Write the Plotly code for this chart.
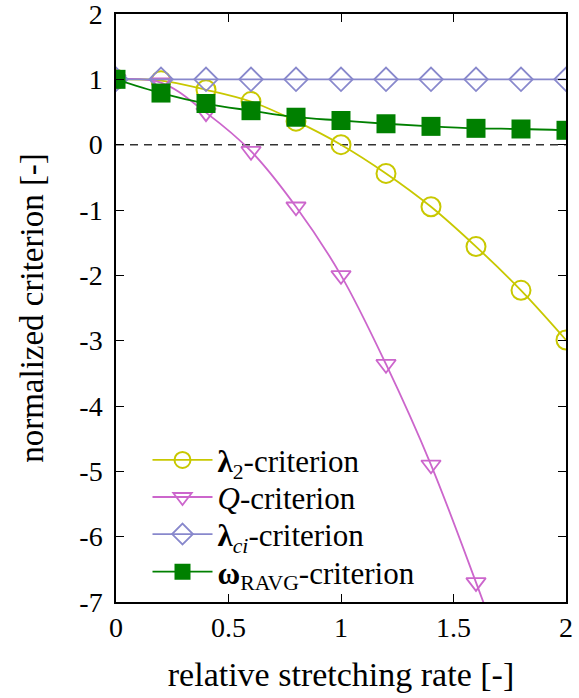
import plotly.graph_objects as go

x = [0.0, 0.2, 0.4, 0.6, 0.8, 1.0, 1.2, 1.4, 1.6, 1.8, 2.0]
lambda2 = [1.0, 0.98, 0.84, 0.66, 0.36, 0.0, -0.44, -0.95, -1.56, -2.23, -2.99]
q_crit = [1.0, 0.95, 0.49, -0.1, -0.95, -2.0, -3.36, -4.9, -6.7, -8.6, -10.7]
lambda_ci = [1.0, 1.0, 1.0, 1.0, 1.0, 1.0, 1.0, 1.0, 1.0, 1.0, 1.0]
omega_ravg = [1.0, 0.79, 0.63, 0.52, 0.42, 0.37, 0.32, 0.28, 0.25, 0.24, 0.22]

names = ["<b>λ</b><sub>2</sub>-criterion", "<i>Q</i>-criterion",
         "<b>λ</b><sub><i>ci</i></sub>-criterion", "<b>ω</b><sub>RAVG</sub>-criterion"]

FONT = "Liberation Serif"
fig = go.Figure()

# zero reference line
fig.add_trace(go.Scatter(x=[x[0], x[-1]], y=[0, 0], mode="lines",
                         line=dict(color="#333333", width=1.5, dash="8px,6px"),
                         showlegend=False, hoverinfo="skip"))

fig.add_trace(go.Scatter(x=x, y=lambda2, name=names[0], mode="lines+markers", legend="legend",
                         line=dict(color="#c8c800", width=1.8, shape="spline"),
                         marker=dict(symbol="circle-open", size=19, color="#c8c800",
                                     line=dict(width=2))))
fig.add_trace(go.Scatter(x=x, y=q_crit, name=names[1], mode="lines+markers", legend="legend2",
                         line=dict(color="#cc66cc", width=1.8, shape="spline"),
                         marker=dict(symbol="triangle-down-open", size=17, color="#cc66cc",
                                     line=dict(width=1.8))))
fig.add_trace(go.Scatter(x=x, y=lambda_ci, name=names[2], mode="lines+markers", legend="legend3",
                         line=dict(color="#8888cc", width=1.8, shape="spline"),
                         marker=dict(symbol="diamond-open", size=18, color="#8888cc",
                                     line=dict(width=1.8))))
fig.add_trace(go.Scatter(x=x, y=omega_ravg, name=names[3], mode="lines+markers", legend="legend4",
                         line=dict(color="#008000", width=1.8, shape="spline"),
                         marker=dict(symbol="square", size=19, color="#008000")))

axis_common = dict(showgrid=False, zeroline=False, showline=True, linecolor="black",
                   linewidth=1.5, mirror="ticks", ticks="inside", ticklen=8,
                   tickcolor="black", tickwidth=1.2, automargin=False,
                   ticklabeloverflow="allow",
                   tickfont=dict(family=FONT, size=28, color="black"))

fig.update_xaxes(range=[0, 2], tickvals=[0, 0.5, 1, 1.5, 2],
                 ticktext=["0", "0.5", "1", "1.5", "2"],
                 title=dict(text="relative stretching rate [-]",
                            font=dict(family=FONT, size=34, color="black"), standoff=20),
                 **axis_common)
fig.update_yaxes(range=[-7, 2], tickvals=list(range(-7, 3)),
                 ticktext=[str(v) for v in range(-7, 3)],
                 ticklabelstandoff=6,
                 title=dict(text="normalized criterion [-]",
                            font=dict(family=FONT, size=33, color="black"), standoff=26),
                 **axis_common)

def leg(ypos):
    return dict(x=0.07, y=ypos, xanchor="left", yanchor="middle",
                bgcolor="rgba(0,0,0,0)", font=dict(family=FONT, size=31),
                itemwidth=60)

fig.update_layout(
    width=579, height=698,
    margin=dict(l=116, r=13, t=14, b=96, autoexpand=False),
    plot_bgcolor="white", paper_bgcolor="white",
    font=dict(family=FONT, size=28, color="black"),
    legend=leg(0.241), legend2=leg(0.178), legend3=leg(0.115), legend4=leg(0.051),
)

fig.write_html("out.html", config={"displayModeBar": False},
               post_script="document.body.style.margin='0px';")
